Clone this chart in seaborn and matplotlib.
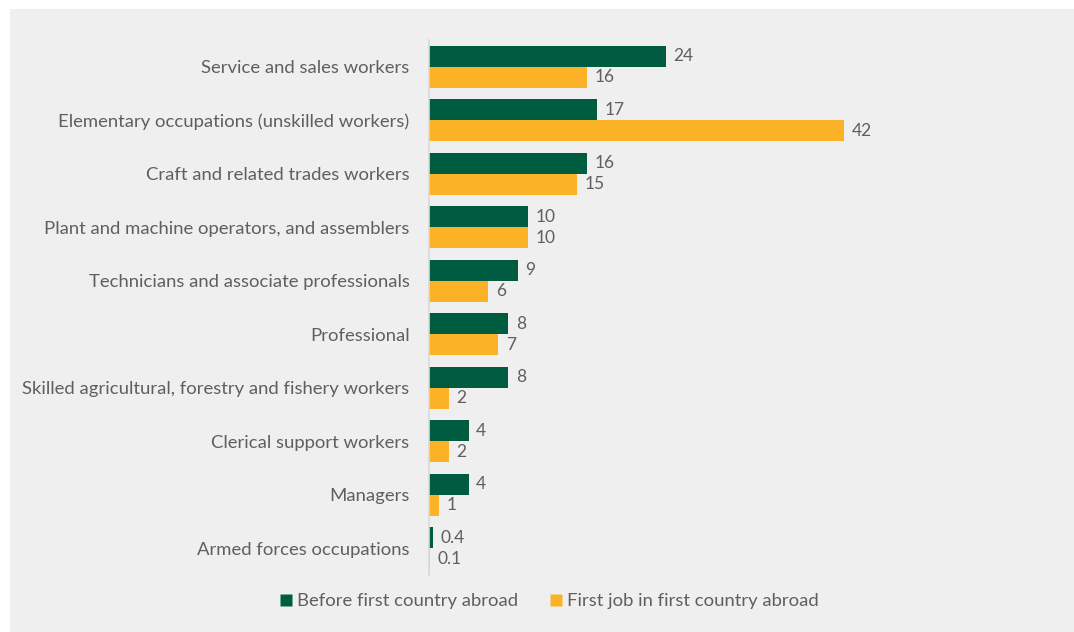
import matplotlib
matplotlib.use("Agg")
import matplotlib.pyplot as plt
from matplotlib.patches import Rectangle
from matplotlib.lines import Line2D
import seaborn as sns
import pandas as pd

occupations = [
    "Service and sales workers",
    "Elementary occupations (unskilled workers)",
    "Craft and related trades workers",
    "Plant and machine operators, and assemblers",
    "Technicians and associate professionals",
    "Professional",
    "Skilled agricultural, forestry and fishery workers",
    "Clerical support workers",
    "Managers",
    "Armed forces occupations",
]
before_abroad = [24, 17, 16, 10, 9, 8, 8, 4, 4, 0.4]
first_job_abroad = [16, 42, 15, 10, 6, 7, 2, 2, 1, 0.1]
series_names = ["Before first country abroad", "First job in first country abroad"]

GREEN = "#005c40"
ORANGE = "#fbb227"
TEXT = "#5f5f5f"
PANEL = "#efefef"

df = pd.DataFrame({
    "occupation": occupations * 2,
    "value": before_abroad + first_job_abroad,
    "series": [series_names[0]] * len(occupations) + [series_names[1]] * len(occupations),
})

sns.set_theme(style="white")
plt.rcParams["font.family"] = ["Lato", "DejaVu Sans"]

fig = plt.figure(figsize=(10.74, 6.32), dpi=100, facecolor="white")
fig.patches.append(Rectangle((10 / 1074, 0), 1, 1 - 9 / 632, transform=fig.transFigure,
                             facecolor=PANEL, edgecolor="none", zorder=-10))

ax = fig.add_axes([429 / 1074, 57 / 632, 568 / 1074, (632 - 57 - 40) / 632])
ax.set_facecolor("none")

sns.barplot(data=df, y="occupation", x="value", hue="series", orient="h",
            palette=[GREEN, ORANGE], saturation=1, width=0.79, gap=0, ax=ax,
            order=occupations, hue_order=series_names, legend=False,
            edgecolor="none", linewidth=0)

for container, vals in zip(ax.containers, [before_abroad, first_job_abroad]):
    ax.bar_label(container, labels=[f"{v:g}" for v in vals], padding=5.5,
                 color=TEXT, fontsize=12.5)

ax.set_xlim(0, 57.5)
ax.set_xlabel("")
ax.set_ylabel("")
ax.set_xticks([])
ax.tick_params(axis="y", length=0, pad=14, labelsize=13.3, labelcolor=TEXT)
for side in ["top", "right", "bottom"]:
    ax.spines[side].set_visible(False)
ax.spines["left"].set_color("#d9d9d9")
ax.spines["left"].set_linewidth(1.2)

handles = [Line2D([], [], marker="s", linestyle="none", markersize=8,
                  markerfacecolor=c, markeredgecolor="none") for c in [GREEN, ORANGE]]
leg = fig.legend(handles, series_names, loc="center", bbox_to_anchor=(550 / 1074, 1 - 601 / 632),
                 ncol=2, frameon=False, fontsize=13.3, handlelength=0.6, handletextpad=0.3,
                 columnspacing=1.75, labelcolor=TEXT)

fig.savefig("out.png", dpi=100, facecolor="white")
